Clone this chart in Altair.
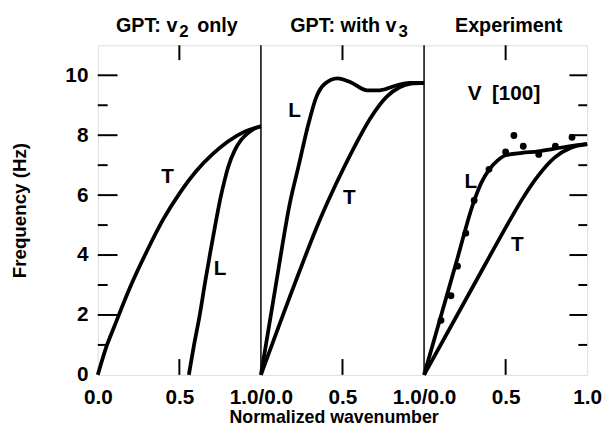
import altair as alt
import pandas as pd

FONT = "Liberation Sans"

# ---- curves (x normalized wavenumber within each panel, y frequency) ----
t1_x = [0, 0.056, 0.1, 0.2, 0.3, 0.4, 0.5, 0.6, 0.7, 0.8, 0.9, 1.0]
t1_y = [0, 0.99, 1.6, 2.95, 4.12, 5.18, 6.05, 6.78, 7.35, 7.8, 8.12, 8.3]
l1_x = [0.558, 0.59, 0.625, 0.658, 0.69, 0.72, 0.75, 0.78, 0.80, 0.84, 0.88, 0.92, 0.96, 1.0]
l1_y = [0, 1.0, 2.0, 3.1, 4.1, 5.0, 5.85, 6.55, 6.95, 7.5, 7.85, 8.07, 8.22, 8.3]

l2_x = [0, 0.09, 0.18, 0.23, 0.29, 0.34, 0.39, 0.47, 0.55, 0.65, 0.73, 0.83, 0.91, 1.0]
l2_y = [0, 2.95, 5.8, 6.95, 8.35, 9.28, 9.71, 9.9, 9.77, 9.5, 9.5, 9.66, 9.75, 9.75]
t2_x = [0, 0.21, 0.36, 0.46, 0.57, 0.67, 0.77, 0.85, 0.92, 1.0]
t2_y = [0, 3.08, 5.16, 6.37, 7.58, 8.56, 9.28, 9.6, 9.72, 9.75]

l3_x = [0, 0.1, 0.2, 0.3, 0.35, 0.4, 0.45, 0.5, 0.6, 0.7, 0.8, 0.9, 1.0]
l3_y = [0, 1.9, 3.8, 5.7, 6.4, 6.86, 7.15, 7.33, 7.41, 7.46, 7.55, 7.64, 7.7]
t3_x = [0, 0.3, 0.53, 0.6, 0.7, 0.8, 0.9, 1.0]
t3_y = [0, 2.95, 5.2, 5.85, 6.65, 7.25, 7.58, 7.7]

# experimental points (panel 3)
exp_x = [0.104, 0.165, 0.205, 0.256, 0.307, 0.398, 0.5, 0.551, 0.608, 0.703, 0.805, 0.907]
exp_y = [1.82, 2.64, 3.63, 4.73, 5.82, 6.86, 7.44, 7.99, 7.63, 7.36, 7.63, 7.93]

# axis ticks / labels
x_tick_values = [0, 0.5, 1, 1.5, 2, 2.5, 3]
x_tick_labels = ["0.0", "0.5", "1.0/0.0", "0.5", "1.0/0.0", "0.5", "1.0"]
y_tick_values = [0, 2, 4, 6, 8, 10]
y_major = [2, 4, 6, 8, 10]
y_minor = [1, 3, 5, 7, 9]
x_inner_ticks = [0.5, 1.5, 2.5]
panel_bounds = [1, 2]

# annotations
ann_text = ["T", "L", "L", "T", "L", "T", "V\u2002[100]"]
ann_x = [0.428, 0.749, 1.207, 1.542, 2.287, 2.571, 2.49]
ann_y = [6.6, 3.52, 8.8, 5.91, 6.42, 4.34, 9.38]

title_main = ["GPT: v", "GPT: with v", "Experiment"]
title_x = [0.488, 1.831, 2.848]
title_sub = ["2", "3"]
title_sub_x = [0.488, 1.831]
title_tail = ["only"]
title_tail_x = [0.488]

# ---- build tables ----
series = [("T1", 0, t1_x, t1_y), ("L1", 0, l1_x, l1_y),
          ("L2", 1, l2_x, l2_y), ("T2", 1, t2_x, t2_y),
          ("L3", 2, l3_x, l3_y), ("T3", 2, t3_x, t3_y)]
rows = []
for name, off, xs, ys in series:
    for xv, yv in zip(xs, ys):
        rows.append({"series": name, "x": xv + off, "y": yv})
lines_df = pd.DataFrame(rows)
pts_df = pd.DataFrame({"x": [v + 2 for v in exp_x], "y": exp_y})
ann_df = pd.DataFrame({"x": ann_x, "y": ann_y, "text": ann_text})

label_array = "[" + ",".join("'%s'" % s for s in x_tick_labels) + "]"

X = alt.X("x:Q",
          scale=alt.Scale(domain=[0, 3], nice=False, zero=False),
          axis=alt.Axis(values=x_tick_values, labelExpr=label_array + "[round(datum.value*2)]",
                        ticks=False, domain=False, grid=False, labelFlush=False,
                        labelOverlap=False, labelPadding=12,
                        labelFont=FONT, labelFontSize=21, labelFontWeight="bold",
                        labelColor="black",
                        title="Normalized wavenumber", titleFont=FONT, titleFontSize=18,
                        titleFontWeight="bold", titleColor="black",
                        titleX=239, titleY=43, titleBaseline="middle"))
Y = alt.Y("y:Q",
          scale=alt.Scale(domain=[0, 11], nice=False, zero=True),
          axis=alt.Axis(values=y_tick_values, ticks=False, domain=False, grid=False,
                        labelPadding=10, labelFont=FONT, labelFontSize=21,
                        labelFontWeight="bold", labelColor="black",
                        title="Frequency (Hz)", titleFont=FONT, titleFontSize=19,
                        titleFontWeight="bold", titleColor="black",
                        titleX=-79, titleY=167, titleBaseline="middle", titleAlign="center"))

lines = alt.Chart(lines_df).mark_line(color="black", strokeWidth=3.8,
                                      interpolate="monotone").encode(x=X, y=Y, detail="series:N")
dots = alt.Chart(pts_df).mark_circle(color="black", size=48, opacity=1).encode(x=X, y=Y)

seps = alt.Chart(pd.DataFrame({"x": panel_bounds})).mark_rule(
    color="black", strokeWidth=1.5).encode(x=X)


def htick(xpos, yvals, length, inward):
    df = pd.DataFrame({"x": [xpos] * len(yvals), "y": yvals})
    return alt.Chart(df).mark_tick(orient="horizontal", size=length, thickness=2,
                                   color="black", opacity=1,
                                   xOffset=inward * length / 2).encode(x=X, y=Y)


def vtick(xvals, ypos, length, inward):
    df = pd.DataFrame({"x": xvals, "y": [ypos] * len(xvals)})
    return alt.Chart(df).mark_tick(orient="vertical", size=length, thickness=2,
                                   color="black", opacity=1,
                                   yOffset=inward * length / 2).encode(x=X, y=Y)


left_major = htick(0, y_major, 20, 1)
left_minor = htick(0, y_minor, 10, 1)
right_major = htick(3, y_major, 18, -1)
right_minor = htick(3, y_minor, 9, -1)
bottom_ticks = vtick(x_inner_ticks, 0, 16, -1)
top_ticks = vtick(x_inner_ticks, 11, 15, 1)

ann = alt.Chart(ann_df).mark_text(font=FONT, fontSize=21, fontWeight="bold", color="black",
                                  align="center", baseline="middle").encode(x=X, y=Y, text="text:N")

t_main = alt.Chart(pd.DataFrame({"x": title_x, "text": title_main})).mark_text(
    font=FONT, fontSize=20, fontWeight="bold", color="black", align="right",
    baseline="alphabetic").encode(x=X, y=alt.value(-14), text="text:N")
t_sub = alt.Chart(pd.DataFrame({"x": title_sub_x, "text": title_sub})).mark_text(
    font=FONT, fontSize=17, fontWeight="bold", color="black", align="left", dx=2,
    baseline="alphabetic").encode(x=X, y=alt.value(-8), text="text:N")
t_tail = alt.Chart(pd.DataFrame({"x": title_tail_x, "text": title_tail})).mark_text(
    font=FONT, fontSize=20, fontWeight="bold", color="black", align="left", dx=20,
    baseline="alphabetic").encode(x=X, y=alt.value(-14), text="text:N")

chart = alt.layer(seps, left_major, left_minor, right_major, right_minor, bottom_ticks,
                  top_ticks, lines, dots, ann, t_main, t_sub, t_tail).properties(
    width=496, height=334,
    autosize=alt.AutoSizeParams(type="none"),
    padding={"left": 91, "top": 35, "right": 15, "bottom": 51},
    background="white",
).configure_view(stroke="black", strokeWidth=3).configure(font=FONT)

chart.save("out.html", embed_options={"renderer": "svg", "actions": False})
